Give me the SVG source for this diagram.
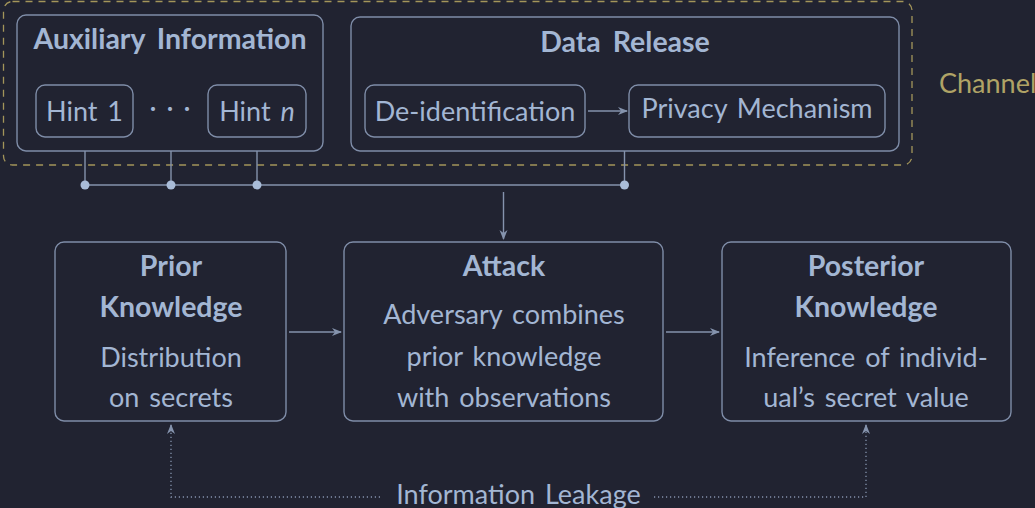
<svg xmlns="http://www.w3.org/2000/svg" width="1035" height="508" viewBox="0 0 1035 508">
<defs>
<style>
.bg{fill:#212331}
.box{fill:none;stroke:#7f8da8;stroke-width:1.4}
.ln{fill:none;stroke:#8593ad;stroke-width:1.4}
.dot{fill:#a9bcd8}
.t{font-family:Lato,"Liberation Sans",sans-serif;font-size:27px;word-spacing:3px;fill:#a3b6d3;text-anchor:middle}
.b{font-weight:bold;font-size:28.5px;word-spacing:5px}
.ch{fill:none;stroke:#a3955a;stroke-width:1.3;stroke-dasharray:7 6}
.chl{font-family:Lato,"Liberation Sans",sans-serif;font-size:27px;fill:#b0a366}
.leak{fill:none;stroke:#8593ad;stroke-width:1.3;stroke-dasharray:1.2 2.8}
</style>
<marker id="ah" viewBox="0 0 10 10" refX="9" refY="5" markerWidth="10" markerHeight="10" markerUnits="userSpaceOnUse" orient="auto">
<path d="M0,1 L10,5 L0,9 L3,5 Z" fill="#8593ad"/>
</marker>
</defs>
<rect class="bg" x="0" y="0" width="1035" height="508"/>

<g id="channel">
<rect class="ch" x="3.5" y="1.5" width="908.5" height="163.5" rx="9"/>
<text class="chl" x="939" y="93">Channel</text>
</g>

<g id="aux">
<rect class="box" x="17" y="15" width="306" height="136" rx="9"/>
<text class="t b" x="170" y="49">Auxiliary Information</text>
</g>
<g id="hint1">
<rect class="box" x="36" y="85" width="97" height="52" rx="9"/>
<text class="t" x="84.5" y="121">Hint 1</text>
</g>
<g id="dots">
<text class="t" x="170" y="117">· · ·</text>
</g>
<g id="hintn">
<rect class="box" x="208" y="85" width="98" height="52" rx="9"/>
<text class="t" x="257" y="121">Hint <tspan font-style="italic">n</tspan></text>
</g>

<g id="release">
<rect class="box" x="351" y="17" width="548" height="134" rx="9"/>
<text class="t b" x="625" y="52">Data Release</text>
</g>
<g id="deid">
<rect class="box" x="365" y="85" width="220" height="52" rx="9"/>
<text class="t" x="475" y="121">De-identification</text>
</g>
<g id="privacy">
<rect class="box" x="629" y="85" width="256" height="52" rx="9"/>
<text class="t" x="757" y="118">Privacy Mechanism</text>
</g>

<g id="prior">
<rect class="box" x="55" y="242" width="231" height="179" rx="9"/>
<text class="t b" x="171" y="276">Prior</text>
<text class="t b" x="171" y="317">Knowledge</text>
<text class="t" x="171" y="367">Distribution</text>
<text class="t" x="171" y="407">on secrets</text>
</g>
<g id="attack">
<rect class="box" x="344" y="242" width="319" height="179" rx="9"/>
<text class="t b" x="504" y="276">Attack</text>
<text class="t" x="504" y="324">Adversary combines</text>
<text class="t" x="504" y="366">prior knowledge</text>
<text class="t" x="504" y="407">with observations</text>
</g>
<g id="posterior">
<rect class="box" x="722" y="242" width="289" height="179" rx="9"/>
<text class="t b" x="866" y="276">Posterior</text>
<text class="t b" x="866" y="317">Knowledge</text>
<text class="t" x="866" y="367">Inference of individ-</text>
<text class="t" x="866" y="407">ual’s secret value</text>
</g>

<g id="connectors">
<line class="ln" x1="85" y1="151" x2="85" y2="185"/>
<line class="ln" x1="171" y1="151" x2="171" y2="185"/>
<line class="ln" x1="257" y1="151" x2="257" y2="185"/>
<line class="ln" x1="624.5" y1="151" x2="624.5" y2="185"/>
<line class="ln" x1="85" y1="185" x2="624.5" y2="185"/>
<circle class="dot" cx="85" cy="185" r="4.5"/>
<circle class="dot" cx="171" cy="185" r="4.5"/>
<circle class="dot" cx="257" cy="185" r="4.5"/>
<circle class="dot" cx="624.5" cy="185" r="4.5"/>
<line class="ln" x1="503.5" y1="192" x2="503.5" y2="239" marker-end="url(#ah)"/>
<line class="ln" x1="588" y1="111" x2="627" y2="111" marker-end="url(#ah)"/>
<line class="ln" x1="289" y1="332" x2="341" y2="332" marker-end="url(#ah)"/>
<line class="ln" x1="666" y1="332" x2="719" y2="332" marker-end="url(#ah)"/>
<path class="leak" d="M380,497 H171 V426"/>
<path class="leak" d="M654,497 H866 V426"/>
<line class="ln" x1="171" y1="430" x2="171" y2="425" marker-end="url(#ah)"/>
<line class="ln" x1="866" y1="430" x2="866" y2="425" marker-end="url(#ah)"/>
<text class="t" x="518.5" y="504">Information Leakage</text>
</g>
</svg>
